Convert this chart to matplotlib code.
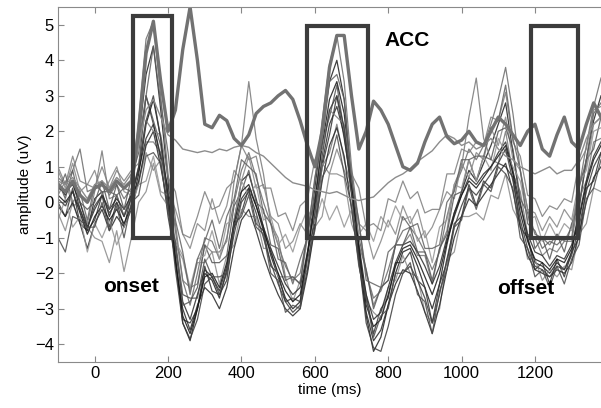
import numpy as np
import matplotlib.pyplot as plt
from matplotlib.patches import Rectangle

plt.rcParams['font.family'] = ['Liberation Sans', 'DejaVu Sans']

# --- sampling times (ms) ---
time_ms = np.arange(-100, 1381, 20)

# --- single traces (uV) ---
trace_a = [0.5, 0.2, 0.6, -0.2, -0.8, 0.1, 0.3, -0.4, 0.2, -0.4,
           0.3, 1.8, 3.6, 4.4, 2.6, 0.6, -1.6, -3.4, -3.9, -3.0,
           -2.0, -2.2, -2.7, -1.9, -0.5, 0.6, 0.8, 0.1, -0.7, -1.5,
           -2.1, -2.7, -3.0, -2.8, -1.5, 0.4, 2.0, 3.4, 4.0, 2.9,
           0.6, -1.4, -3.2, -4.2, -3.8, -2.9, -2.0, -1.4, -1.3, -1.8,
           -2.4, -3.0, -2.3, -1.2, -0.3, 0.3, 0.9, 0.6, 1.1, 1.6,
           2.2, 2.8, 1.4, 0.0, -1.0, -1.7, -1.8, -2.0, -1.7, -1.9,
           -1.4, -0.2, 1.2, 2.3, 3.0]
trace_b = [0.0, -0.4, 0.4, -0.6, -0.8, -0.5, 0.2, -0.7, 0.0, -0.7,
           0.2, 1.0, 3.0, 2.2, 1.2, -0.4, -1.6, -3.3, -3.4, -3.0,
           -1.8, -2.5, -2.6, -2.2, -0.7, -0.3, 0.4, -0.6, -0.8, -1.8,
           -2.0, -2.8, -2.7, -2.8, -1.4, -0.6, 1.0, 1.9, 3.0, 1.8,
           0.5, -1.5, -2.6, -3.7, -3.0, -2.7, -1.7, -1.7, -1.4, -2.2,
           -2.4, -3.4, -2.3, -1.7, -0.6, -0.4, 0.5, -0.1, 0.6, 0.4,
           1.1, 1.0, 0.7, -0.7, -1.0, -1.9, -1.7, -2.3, -1.6, -2.1,
           -1.4, -1.0, 0.4, 0.6, 1.4]
trace_c = [0.7, 0.5, 0.9, 1.5, 0.3, 0.4, 0.6, 0.2, 0.5, 0.1,
           0.4, 2.4, 4.6, 5.1, 3.0, 0.8, -0.8, -2.2, -2.9, -2.0,
           -1.0, -1.1, -1.6, -1.0, 0.0, 0.9, 1.4, 0.7, 0.0, -0.6,
           -1.2, -1.8, -2.2, -2.0, -0.9, 0.6, 2.3, 3.9, 4.7, 3.4,
           1.0, -0.6, -2.0, -2.7, -2.5, -1.9, -1.2, -0.8, -0.7, -1.0,
           -1.4, -1.9, -1.4, -0.4, 0.4, 0.9, 1.5, 1.2, 1.6, 2.2,
           2.9, 3.8, 2.5, 0.9, -0.2, -0.9, -1.0, -1.2, -0.9, -1.1,
           -0.7, 0.4, 1.6, 2.7, 3.5]
trace_d = [-0.3, -0.8, 0.0, -0.6, -0.7, -1.0, -1.1, -1.7, -0.8, -1.95,
           -1.0, 0.0, 0.3, 1.1, 0.2, -0.1, -1.2, -1.6, -2.5, -1.7,
           -1.7, -1.4, -2.3, -1.5, -1.2, -0.2, -0.4, -0.4, -1.3, -1.3,
           -2.1, -2.1, -2.8, -2.2, -1.9, -0.7, -0.4, 0.8, 0.8, 0.7,
           -0.6, -1.2, -2.8, -3.1, -3.3, -2.4, -2.2, -1.5, -2.0, -2.1,
           -3.1, -3.4, -3.0, -1.6, -1.4, -0.4, -0.4, -0.3, -0.5, 0.2,
           0.1, 0.8, -0.2, -0.6, -1.6, -1.6, -2.2, -1.9, -2.1, -1.8,
           -1.9, -0.9, -0.6, 0.4, 0.3]
trace_e = [0.2, 0.6, -0.1, 0.0, -0.6, 0.3, 1.45, 0.1, 0.2, -0.4,
           0.3, 0.5, 1.7, 1.7, 1.4, 0.1, -0.6, -2.2, -2.4, -2.3,
           -1.2, -1.4, -1.4, -1.1, 0.6, 1.6, 3.4, 1.8, 0.8, -0.6,
           -1.0, -2.1, -2.1, -2.3, -1.0, -0.4, 1.0, 1.4, 2.2, 1.2,
           0.4, -1.2, -1.9, -2.9, -2.4, -2.2, -1.2, -1.2, -0.9, -1.5,
           -1.5, -2.3, -1.3, -0.8, 0.5, 1.0, 2.4, 3.5, 1.8, 1.2,
           1.1, 2.0, 0.8, 0.3, -0.9, -1.0, -1.5, -1.3, -1.4, -1.1,
           -1.1, 0.1, 0.6, 1.7, 1.8]
trace_f = [0.4, 0.3, 0.5, 0.0, -0.7, -0.2, 0.2, -0.2, 0.1, -0.2,
           0.2, 0.9, 1.8, 2.2, 1.3, 0.4, -1.3, -2.8, -3.3, -2.6,
           -1.9, -2.1, -2.5, -1.8, -0.7, 0.1, 0.4, -0.1, -0.7, -1.3,
           -1.8, -2.3, -2.6, -2.4, -1.4, -0.1, 1.1, 2.2, 2.7, 1.9,
           0.3, -1.2, -2.6, -3.3, -3.1, -2.4, -1.7, -1.2, -1.1, -1.4,
           -1.8, -2.3, -1.8, -1.0, -0.3, 0.2, 0.7, 0.5, 0.8, 1.0,
           1.4, 1.7, 0.9, -0.1, -0.9, -1.4, -1.5, -1.8, -1.5, -1.6,
           -1.2, -0.4, 0.6, 1.3, 1.7]
trace_g = [0.9, 0.4, 1.1, 0.3, 0.5, 0.9, 0.2, 0.6, 1.0, 0.3,
           0.2, 0.6, 1.4, 0.9, 1.2, 0.3, -0.2, -0.9, -1.3, -0.6,
           -0.8, 0.1, -0.6, -0.1, 0.9, 0.6, 1.3, 0.4, 0.5, -0.4,
           -0.6, -1.3, -1.1, -0.6, -0.9, 0.2, 1.1, 0.8, 1.5, 0.9,
           0.3, -0.6, -0.8, -1.6, -1.1, -0.5, -0.9, -0.1, -0.6, -0.2,
           -1.0, -0.7, -0.2, 0.3, 0.1, 1.1, 0.7, 1.4, 1.2, 2.1,
           1.6, 2.4, 1.2, 0.9, -0.2, -0.3, -0.8, -0.4, -0.7, -0.2,
           -0.5, 0.6, 1.0, 2.2, 2.4]
trace_h = [-0.1, -0.4, 0.0, -0.6, -1.3, -0.6, -0.2, -0.8, -0.4, -0.7,
           -0.2, 0.6, 1.6, 2.0, 1.0, -0.1, -1.7, -3.0, -3.6, -2.9,
           -2.4, -2.6, -3.0, -2.4, -1.3, -0.5, -0.2, -0.8, -1.5, -2.1,
           -2.6, -3.0, -3.2, -3.0, -2.0, -0.7, 0.6, 1.6, 2.1, 1.3,
           -0.2, -1.7, -3.1, -3.9, -3.6, -2.9, -2.3, -1.9, -2.0, -2.5,
           -3.1, -3.7, -2.9, -1.9, -1.0, -0.4, 0.1, -0.1, 0.2, 0.5,
           0.8, 1.1, 0.3, -0.7, -1.5, -1.9, -2.0, -2.1, -1.9, -2.0,
           -1.7, -0.9, 0.0, 0.7, 1.0]
trace_i = [0.6, 0.1, 0.9, 0.0, -0.2, 0.0, 0.6, -0.2, 0.5, -0.2,
           0.7, 1.4, 3.0, 2.3, 1.6, 0.0, -1.2, -2.9, -2.8, -2.4,
           -1.2, -1.7, -1.7, -1.5, -0.1, 0.3, 0.9, 0.0, -0.2, -1.2,
           -1.3, -2.2, -2.1, -2.3, -0.8, 0.1, 1.7, 2.4, 3.3, 2.0,
           0.8, -1.0, -1.9, -3.0, -2.4, -2.2, -1.2, -1.2, -0.7, -1.4,
           -1.4, -2.2, -1.3, -0.9, 0.2, 0.3, 1.2, 0.6, 1.3, 1.2,
           2.0, 2.1, 1.5, 0.1, -0.3, -1.3, -1.0, -1.6, -0.9, -1.4,
           -0.6, -0.1, 1.2, 1.5, 2.4]
trace_j = [-0.5, 0.1, -0.7, -0.4, -1.4, -0.6, -1.0, -0.5, -1.2, -0.7,
           -0.1, 0.5, 0.6, 1.3, 0.3, 0.2, -1.1, -1.5, -2.4, -1.6,
           -1.5, -0.8, -1.6, -0.6, -0.5, 0.6, 0.2, 0.5, -0.5, -0.4,
           -1.2, -0.9, -1.4, -0.7, -0.2, -0.6, 0.1, -0.5, -0.1, -0.7,
           -0.2, -0.9, -0.6, -1.1, -0.4, -0.7, -0.1, -0.5, -0.4, -1.1,
           -0.8, -1.7, -0.7, -0.5, 0.5, 0.4, 1.2, 0.6, 1.3, 0.9,
           1.8, 1.4, 1.0, 0.6, -0.5, -0.4, -1.1, -0.6, -1.0, -0.6,
           -0.8, 0.5, 0.9, 2.0, 2.1]
trace_k = [0.2, 0.0, 0.3, -0.3, -0.9, -0.4, -0.1, -0.5, -0.2, -0.6,
           -0.1, 0.8, 2.2, 2.9, 1.8, 0.2, -1.6, -3.2, -3.7, -3.0,
           -2.1, -2.0, -2.4, -1.7, -0.6, 0.3, 0.5, -0.1, -0.8, -1.4,
           -2.0, -2.5, -2.8, -2.6, -1.5, 0.0, 1.6, 2.9, 3.4, 2.5,
           0.5, -1.3, -2.9, -3.5, -3.3, -2.6, -1.8, -1.3, -1.2, -1.6,
           -2.1, -2.6, -2.0, -1.1, -0.4, 0.2, 0.6, 0.4, 0.7, 1.0,
           1.3, 1.6, 0.8, -0.3, -1.1, -1.6, -1.7, -1.9, -1.6, -1.7,
           -1.3, -0.5, 0.5, 1.2, 1.6]
trace_l = [1.0, 0.5, 1.3, 0.6, 0.5, 0.4, 1.0, 0.4, 0.9, 0.6,
           0.9, 1.1, 2.3, 2.0, 1.9, 0.7, 0.3, -0.9, -1.0, -0.4,
           0.3, -0.2, -0.1, 0.4, 0.6, 1.6, 1.2, 1.3, 0.4, 0.4,
           -0.4, -0.3, -0.8, -0.1, 0.1, 1.2, 1.5, 2.6, 2.4, 2.2,
           0.8, 0.4, -0.7, -0.6, -0.8, 0.1, 0.0, 0.6, 0.1, 0.3,
           -0.3, -0.2, -0.2, 0.8, 0.8, 1.5, 1.4, 1.7, 1.6, 2.4,
           2.3, 3.1, 1.7, 1.3, 0.2, 0.1, -0.4, -0.1, -0.2, 0.1,
           0.0, 1.1, 1.5, 2.6, 2.7]
trace_m = [0.1, -0.1, 0.3, -0.2, -0.7, -0.1, 0.2, -0.3, 0.0, -0.4,
           0.1, 1.0, 2.3, 3.0, 1.8, 0.0, -1.9, -3.4, -3.85, -3.3,
           -2.3, -2.1, -2.6, -2.0, -0.9, 0.0, 0.3, -0.3, -1.0, -1.7,
           -2.3, -2.8, -3.1, -2.9, -1.9, -0.3, 1.3, 2.6, 3.0, 2.1,
           0.2, -1.6, -3.4, -4.1, -4.2, -3.5, -2.6, -2.0, -1.8, -2.2,
           -2.7, -3.4, -2.6, -1.6, -0.7, -0.1, 0.4, 0.2, 0.5, 0.8,
           1.1, 1.5, 0.6, -0.5, -1.3, -1.8, -1.9, -2.1, -1.8, -1.9,
           -1.5, -0.7, 0.3, 1.0, 1.4]
trace_n = [0.3, 0.8, 0.0, 0.3, -0.5, 0.5, 0.3, 0.3, 0.2, 0.4,
           0.3, 1.7, 3.0, 4.4, 2.8, 1.4, -0.5, -1.4, -2.6, -1.6,
           -1.1, -0.5, -1.3, -0.4, 0.1, 1.2, 1.0, 0.8, -0.3, -0.6,
           -1.6, -1.7, -2.3, -1.6, -1.0, 0.7, 1.7, 3.4, 3.6, 2.9,
           0.6, -0.5, -2.2, -2.3, -2.4, -1.4, -1.2, -0.4, -0.7, -0.6,
           -1.3, -1.3, -1.2, 0.0, 0.3, 1.2, 1.2, 1.3, 1.3, 2.1,
           2.3, 3.3, 1.8, 0.9, -0.6, -0.8, -1.3, -1.1, -1.2, -1.0,
           -1.0, 0.4, 1.2, 2.5, 2.8]
trace_o = [-1.0, -1.4, -0.4, -0.5, -0.7, -0.7, 0.0, -0.8, -0.1, -1.0,
           0.0, 0.2, 1.3, 1.4, 1.1, -0.3, -1.1, -2.6, -2.7, -2.7,
           -1.6, -2.1, -2.1, -2.0, -0.6, -0.4, 0.2, -0.7, -0.9, -2.0,
           -2.2, -3.1, -2.9, -3.0, -1.6, -0.8, 0.7, 1.1, 1.9, 0.8,
           -0.1, -1.8, -2.7, -3.8, -3.2, -3.0, -2.0, -2.0, -1.7, -2.6,
           -2.8, -3.7, -2.5, -1.9, -0.7, -0.5, 0.4, -0.2, 0.5, 0.3,
           1.0, 0.8, 0.4, -1.0, -1.3, -2.1, -1.9, -2.4, -1.8, -2.3,
           -1.6, -1.2, 0.1, 0.4, 1.2]

# thick grey trace and the smooth light trace
trace_thick = [0.5, 0.3, 0.6, 0.2, 0.0, 0.4, 0.5, 0.3, 0.6, 0.4,
               0.6, 2.0, 4.2, 5.1, 3.4, 2.0, 2.6, 4.3, 5.5, 4.0,
               2.2, 2.1, 2.45, 2.3, 1.8, 1.6, 1.9, 2.5, 2.7, 2.8,
               3.0, 3.15, 2.9, 2.3, 1.6, 1.0, 2.0, 3.8, 4.7, 4.7,
               3.0, 1.5, 2.0, 2.85, 2.6, 2.2, 1.6, 1.0, 0.9, 1.1,
               1.7, 2.2, 2.4, 1.85, 1.65, 1.75, 2.0, 1.7, 1.6, 2.0,
               2.4, 2.2, 1.9, 1.6, 2.0, 2.2, 1.5, 1.3, 1.9, 2.4,
               1.7, 1.5, 2.2, 2.8, 2.4]
trace_smooth = [0.6, 0.5, 0.7, 0.4, 0.1, 0.5, 0.6, 0.4, 0.7, 0.5,
                0.8, 1.6, 2.6, 2.9, 2.4, 1.9, 1.75, 1.5, 1.45, 1.4,
                1.45, 1.4, 1.5, 1.45, 1.55, 1.6, 1.55, 1.4, 1.3, 1.1,
                0.9, 0.7, 0.55, 0.5, 0.45, 0.35, 0.3, 0.25, 0.3, 0.2,
                0.1, 0.05, 0.1, 0.15, 0.35, 0.55, 0.7, 0.8, 0.95, 1.15,
                1.3, 1.45, 1.7, 1.9, 1.8, 1.6, 1.7, 1.5, 1.6, 1.8,
                1.5, 1.3, 1.2, 1.0, 0.9, 0.8, 0.9, 1.0, 0.8, 0.9,
                0.9, 1.2, 1.8, 2.2, 2.4]

# --- analysis windows (ms, uV) ---
win_start = [105, 580, 1190]
win_end = [210, 745, 1317]
win_low = [-1.0, -1.0, -1.0]
win_high = [5.25, 4.98, 4.98]

bundle = [trace_a, trace_b, trace_c, trace_d, trace_e, trace_f, trace_g, trace_h,
          trace_i, trace_j, trace_k, trace_l, trace_m, trace_n, trace_o]
greys = ['#1e1e1e', '#333333', '#6a6a6a', '#8a8a8a', '#777777', '#2a2a2a', '#858585',
         '#262626', '#555555', '#959595', '#151515', '#7d7d7d', '#3a3a3a', '#606060',
         '#4a4a4a']

fig = plt.figure(figsize=(6.01, 4.08), dpi=100)
ax = fig.add_axes([0.0965, 0.1127, 0.9035, 0.870])

for tr, col in zip(bundle, greys):
    ax.plot(time_ms, tr, color=col, linewidth=0.9, alpha=0.85)
ax.plot(time_ms, trace_smooth, color='#8c8c8c', linewidth=1.0)
ax.plot(time_ms, trace_thick, color='#727272', linewidth=2.4)

for x0, x1, y0, y1 in zip(win_start, win_end, win_low, win_high):
    ax.add_patch(Rectangle((x0, y0), x1 - x0, y1 - y0, fill=False,
                           edgecolor='#3c3c3c', linewidth=3.0, zorder=5))

ax.text(790, 4.56, 'ACC', fontsize=15, fontweight='bold', va='center', ha='left')
ax.text(22, -2.37, 'onset', fontsize=15, fontweight='bold', va='center', ha='left')
ax.text(1096, -2.42, 'offset', fontsize=15, fontweight='bold', va='center', ha='left')

ax.set_xlim(-100, 1380)
ax.set_ylim(-4.5, 5.5)
ax.set_xticks([0, 200, 400, 600, 800, 1000, 1200])
ax.set_yticks([-4, -3, -2, -1, 0, 1, 2, 3, 4, 5])
ax.set_xlabel('time (ms)', fontsize=11, labelpad=1)
ax.set_ylabel('amplitude (uV)', fontsize=11, labelpad=2)
ax.tick_params(which='both', direction='in', top=True, right=False,
               length=4, color='#888888', labelsize=12, pad=3)
for side in ['left', 'bottom', 'top']:
    ax.spines[side].set_color('#8a8a8a')
ax.spines['right'].set_visible(False)

fig.savefig('out.png', dpi=100)
